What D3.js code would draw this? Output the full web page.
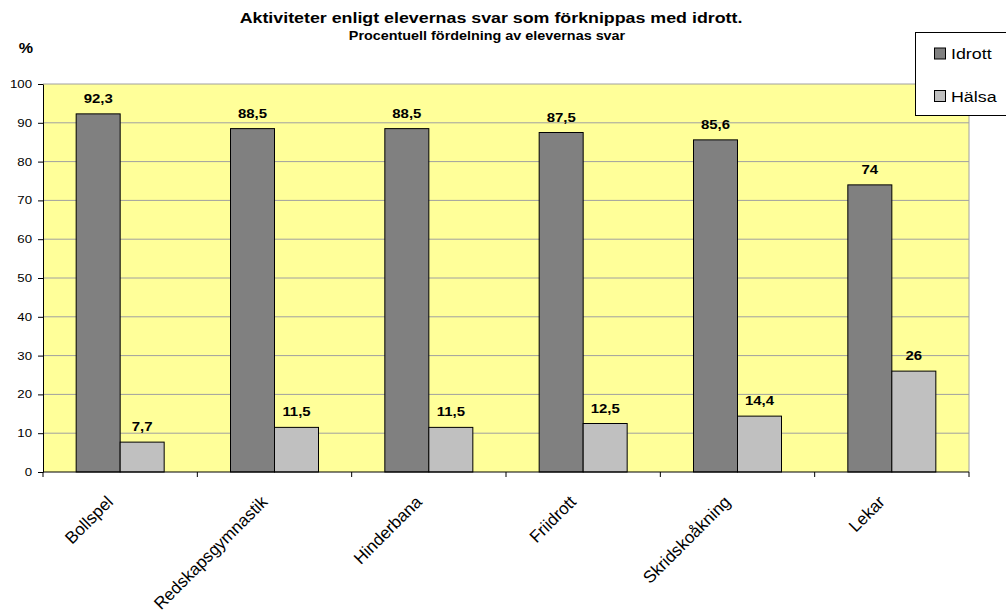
<!DOCTYPE html>
<html><head><meta charset="utf-8">
<script src="https://cdn.jsdelivr.net/npm/d3@7"></script>
<style>body{margin:0;background:#fff}svg{font-family:"Liberation Sans",Arial,sans-serif}</style>
</head><body>
<svg id="c" width="1006" height="615"></svg>
<script>
const categories = ["Bollspel","Redskapsgymnastik","Hinderbana","Friidrott","Skridskoåkning","Lekar"];
const idrott = [92.3, 88.5, 88.5, 87.5, 85.6, 74];
const halsa = [7.7, 11.5, 11.5, 12.5, 14.4, 26];
const seriesNames = ["Idrott","Hälsa"];
const seriesColors = ["#808080","#c0c0c0"];
const yTicks = [0,10,20,30,40,50,60,70,80,90,100];

const SX = 1.15; // horizontal text stretch seen in reference
const svg = d3.select("#c");
const L = 43, R = 969, T = 84, B = 472;
const x = d3.scaleBand().domain(categories).range([L, R]).paddingInner(0).paddingOuter(0);
const y = d3.scaleLinear().domain([0,100]).range([B, T]);
const fmt = v => String(v).replace(".", ",");

function stext(parent, tx, ty, str, size, anchor, bold) {
  return parent.append("text")
    .attr("transform", `translate(${tx},${ty}) scale(${SX},1)`)
    .attr("text-anchor", anchor).attr("font-size", size)
    .attr("font-weight", bold ? "bold" : "normal").attr("fill", "#000").text(str);
}

svg.append("rect").attr("x",L).attr("y",T).attr("width",R-L).attr("height",B-T).attr("fill","#ffff99");
svg.append("g").selectAll("line").data(yTicks.filter(d=>d>0)).join("line")
  .attr("x1",L).attr("x2",R).attr("y1",d=>y(d)).attr("y2",d=>y(d)).attr("stroke","#a0a0a0").attr("stroke-width",1);
svg.append("line").attr("x1",R).attr("x2",R).attr("y1",T).attr("y2",B).attr("stroke","#a0a0a0");

const bw = 44;
const data = [idrott, halsa];
data.forEach((vals, si) => {
  const g = svg.append("g");
  g.selectAll("rect").data(categories).join("rect")
    .attr("x", c => x(c) + x.bandwidth()/2 - bw + si*bw)
    .attr("y", (c,i) => y(vals[i]))
    .attr("width", bw)
    .attr("height", (c,i) => B - y(vals[i]))
    .attr("fill", seriesColors[si]).attr("stroke","#000").attr("stroke-width",1);
  categories.forEach((c,i) => {
    stext(g, x(c) + x.bandwidth()/2 - bw/2 + si*bw, y(vals[i]) - 11, fmt(vals[i]), 13, "middle", true);
  });
});

// y axis
const ya = svg.append("g").attr("transform",`translate(${L},0)`)
  .call(d3.axisLeft(y).tickValues(yTicks).tickSize(5).tickSizeOuter(0).tickFormat(""));
ya.select(".domain").attr("stroke","#000");
ya.selectAll("line").attr("stroke","#000");
yTicks.forEach(t => stext(svg, L-11, y(t)+4, String(t), 11.5, "end", false));

// x axis
svg.append("line").attr("x1",L).attr("x2",R).attr("y1",B).attr("y2",B).attr("stroke","#000");
const bounds = categories.map(c => x(c)).concat([R]);
svg.append("g").selectAll("line").data(bounds).join("line")
  .attr("x1",d=>d).attr("x2",d=>d).attr("y1",B).attr("y2",B+5).attr("stroke","#000");
svg.append("g").selectAll("text").data(categories).join("text")
  .attr("transform", c => `translate(${x(c)+x.bandwidth()/2-6},${B+31}) rotate(-45)`)
  .attr("text-anchor","end").attr("font-size",17).text(c=>c);

// titles
stext(svg, 491, 23, "Aktiviteter enligt elevernas svar som förknippas med idrott.", 15.5, "middle", true);
stext(svg, 487, 40, "Procentuell fördelning av elevernas svar", 12.5, "middle", true);
stext(svg, 26, 53, "%", 14, "middle", true);

// legend
svg.append("rect").attr("x",915.5).attr("y",32.5).attr("width",95).attr("height",83).attr("fill","#fff").attr("stroke","#000");
seriesNames.forEach((n,i) => {
  const cy = 53.5 + i*42.5;
  svg.append("rect").attr("x",934.5).attr("y",cy-5.5).attr("width",11).attr("height",11).attr("fill",seriesColors[i]).attr("stroke","#000");
  stext(svg, 951, cy+5.5, n, 15.5, "start", false);
});
</script>
</body></html>
